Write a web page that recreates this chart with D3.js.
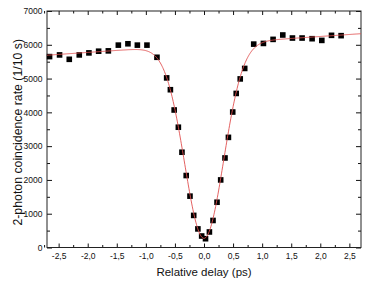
<!DOCTYPE html>
<html>
<head>
<meta charset="utf-8">
<script src="https://cdn.jsdelivr.net/npm/d3@7"></script>
<style>
body{margin:0;background:#fff}
svg{display:block}
.axis text{font-family:"Liberation Sans",Arial,sans-serif;font-size:8.5px;fill:#111}
.axis path{display:none}
.axis line{stroke:#111}
.lbl{font-family:"Liberation Sans",Arial,sans-serif;font-size:11.5px;fill:#111}
</style>
</head>
<body>
<div id="chart"></div>
<script>
// measured points (delay in ps, counts per 10 s)
var delayPs = [-2.656,-2.484,-2.317,-2.145,-1.979,-1.812,-1.645,-1.473,-1.308,-1.146,-0.981,-0.809,-0.642,
  -0.578,-0.513,-0.441,-0.379,-0.306,-0.241,-0.177,-0.105,-0.040,0.026,0.093,0.155,0.224,0.287,0.361,0.420,0.494,0.554,0.623,0.700,
  0.855,1.022,1.188,1.355,1.521,1.687,1.859,2.026,2.193,2.358];
var rate = [5650,5700,5570,5700,5760,5810,5820,5990,6030,5990,5990,5630,5020,
  4670,4070,3560,2820,2130,1520,950,550,340,260,460,800,1340,2000,2650,3260,4010,4560,4990,5300,
  6020,6040,6160,6290,6200,6200,6180,6130,6280,6270];

var xMajor = [-2.5,-2,-1.5,-1,-0.5,0,0.5,1,1.5,2,2.5];
var xMinor = [-2.75,-2.25,-1.75,-1.25,-0.75,-0.25,0.25,0.75,1.25,1.75,2.25];
var yMajor = [0,1000,2000,3000,4000,5000,6000,7000];
var yMinor = [500,1500,2500,3500,4500,5500,6500];

// gaussian dip fit on a sloped baseline
var fitBase = 6010, fitSlope = 118, fitVis = 0.955, fitCenter = 0, fitSigma = 0.335;

var width = 374, height = 285;
var L = 47, R = 361, T = 11, B = 247.5;

var svg = d3.select("#chart").append("svg").attr("width",width).attr("height",height);

var x = d3.scaleLinear().domain([-2.7,2.7]).range([L,R]);
var y = d3.scaleLinear().domain([0,7000]).range([B,T]);

var fmt = function(d){ return d3.format(".1f")(d).replace(".",",").replace("−","-"); };

svg.append("g").attr("class","axis").attr("transform","translate(0,"+B+")")
  .call(d3.axisBottom(x).tickValues(xMajor).tickSize(-4).tickPadding(5.5).tickFormat(fmt));
svg.append("g").attr("class","axis").attr("transform","translate(0,"+B+")")
  .call(d3.axisBottom(x).tickValues(xMinor).tickSize(-2.5).tickFormat(""));
svg.append("g").attr("class","axis").attr("transform","translate(0,"+T+")")
  .call(d3.axisTop(x).tickValues(xMajor).tickSize(-4).tickFormat(""));
svg.append("g").attr("class","axis").attr("transform","translate(0,"+T+")")
  .call(d3.axisTop(x).tickValues(xMinor).tickSize(-2.5).tickFormat(""));

svg.append("g").attr("class","axis").attr("transform","translate("+L+",0)")
  .call(d3.axisLeft(y).tickValues(yMajor).tickSize(-5).tickPadding(4.5).tickFormat(d3.format("d")));
svg.append("g").attr("class","axis").attr("transform","translate("+L+",0)")
  .call(d3.axisLeft(y).tickValues(yMinor).tickSize(-3).tickFormat(""));
svg.append("g").attr("class","axis").attr("transform","translate("+R+",0)")
  .call(d3.axisRight(y).tickValues(yMajor).tickSize(-5).tickFormat(""));
svg.append("g").attr("class","axis").attr("transform","translate("+R+",0)")
  .call(d3.axisRight(y).tickValues(yMinor).tickSize(-3).tickFormat(""));

svg.append("rect").attr("x",L).attr("y",T).attr("width",R-L).attr("height",B-T)
  .attr("fill","none").attr("stroke","#222").attr("stroke-width",1);

// squares
var pts = delayPs.map(function(d,i){ return {t:d, r:rate[i]}; });
svg.append("g").selectAll("rect").data(pts).enter().append("rect")
  .attr("x",function(d){ return x(d.t)-2.8; })
  .attr("y",function(d){ return y(d.r)-2.8; })
  .attr("width",5.6).attr("height",5.6)
  .attr("fill","#000");

// fit curve
var fit = d3.range(-2.7,2.7001,0.01).map(function(t){
  var base = fitBase + fitSlope*t;
  var g = Math.exp(-Math.pow(t-fitCenter,2)/(2*fitSigma*fitSigma));
  return [t, base*(1-fitVis*g)];
});
svg.append("path").datum(fit)
  .attr("fill","none").attr("stroke","#e05050").attr("stroke-width",0.9)
  .attr("d",d3.line().x(function(d){ return x(d[0]); }).y(function(d){ return y(d[1]); }));

svg.append("text").attr("class","lbl").attr("x",(L+R)/2).attr("y",276)
  .attr("text-anchor","middle").text("Relative delay (ps)");
svg.append("text").attr("class","lbl").attr("text-anchor","middle")
  .style("font-size","12.3px")
  .attr("transform","translate(22,"+((T+B)/2+3)+") rotate(-90)")
  .text("2-photon coincidence rate (1/10 s)");
</script>
</body>
</html>
